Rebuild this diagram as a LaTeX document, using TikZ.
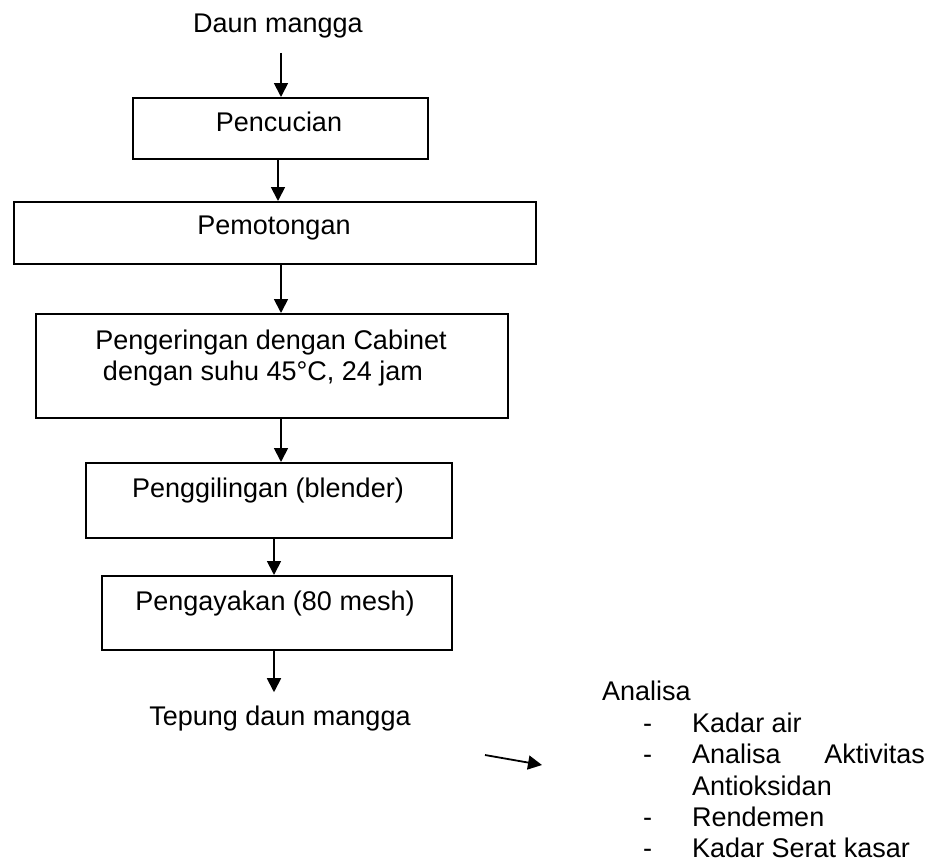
\documentclass[tikz,border=0pt]{standalone}
\usepackage{fontspec}
\setmainfont{Liberation Sans}
\usetikzlibrary{arrows.meta}
\begin{document}
\begin{tikzpicture}[x=1pt,y=-1pt,
  every node/.style={inner sep=0pt,font=\fontsize{27}{31}\selectfont},
  txt/.style={anchor=base},
  lft/.style={anchor=base west,text height=19pt,text depth=5pt},
  boxnode/.style={draw,line width=1.8pt,anchor=north west,minimum width=#1},
  arr/.style={line width=1.8pt,-{Triangle[length=14pt,width=14pt]}}]
\useasboundingbox (0,0) rectangle (945,862);
\fill[white] (0,0) rectangle (945,862);
% boxes
\node[boxnode=295pt,minimum height=61pt] (b1) at (132,97) {};
\node[boxnode=522pt,minimum height=62pt] (b2) at (13,201) {};
\node[boxnode=472pt,minimum height=104pt] (b3) at (35,313) {};
\node[boxnode=366pt,minimum height=75pt] (b4) at (85,462) {};
\node[boxnode=350pt,minimum height=74pt] (b5) at (101,575) {};
% texts
\node[txt] (daun) at (278,32) {Daun mangga};
\node[txt] (t1) at (279,131) {Pencucian};
\node[txt] (t2) at (274,234) {Pemotongan};
\node[txt,text depth=4pt] (t3a) at (271,349) {Pengeringan dengan Cabinet};
\node[txt,text height=19pt] (t3b) at (263,380) {dengan suhu 45°C, 24 jam};
\node[txt] (t4) at (268,497) {Penggilingan (blender)};
\node[txt] (t5) at (275,610) {Pengayakan (80 mesh)};
\node[txt] (tepung) at (280,725) {Tepung daun mangga};
% analysis list
\node[lft] (an) at (602,700) {Analisa};
\node[lft] (d1) at (643,732) {-};
\node[lft] (i1) at (692,732) {Kadar air};
\node[lft] (d2) at (643,763) {-};
\node[lft] (i2a) at (692,763) {Analisa};
\node[anchor=base east,text height=19pt,text depth=5pt] (i2b) at (925,763) {Aktivitas};
\node[lft] (i2c) at (692,795) {Antioksidan};
\node[lft] (d3) at (643,826) {-};
\node[lft] (i3) at (692,826) {Rendemen};
\node[lft] (d4) at (643,857) {-};
\node[lft] (i4) at (692,857) {Kadar Serat kasar};
% x positions of connectors
\coordinate (xa) at (281,0);
\coordinate (xb) at (278,0);
\coordinate (xc) at (274,0);
% connectors
\draw[arr,shorten <=15pt] (daun.south -| xa) -- (b1.north -| xa);
\draw[arr] (b1.south -| xb) -- (b2.north -| xb);
\draw[arr] (b2.south -| xa) -- (b3.north -| xa);
\draw[arr] (b3.south -| xa) -- (b4.north -| xa);
\draw[arr] (b4.south -| xc) -- (b5.north -| xc);
\draw[arr,shorten >=13pt] (b5.south -| xc) -- (tepung.north -| xc);
\coordinate (p1) at (485,755);
\coordinate (p2) at (542,765);
\draw[arr] (p1) -- (p2);
\end{tikzpicture}
\end{document}
